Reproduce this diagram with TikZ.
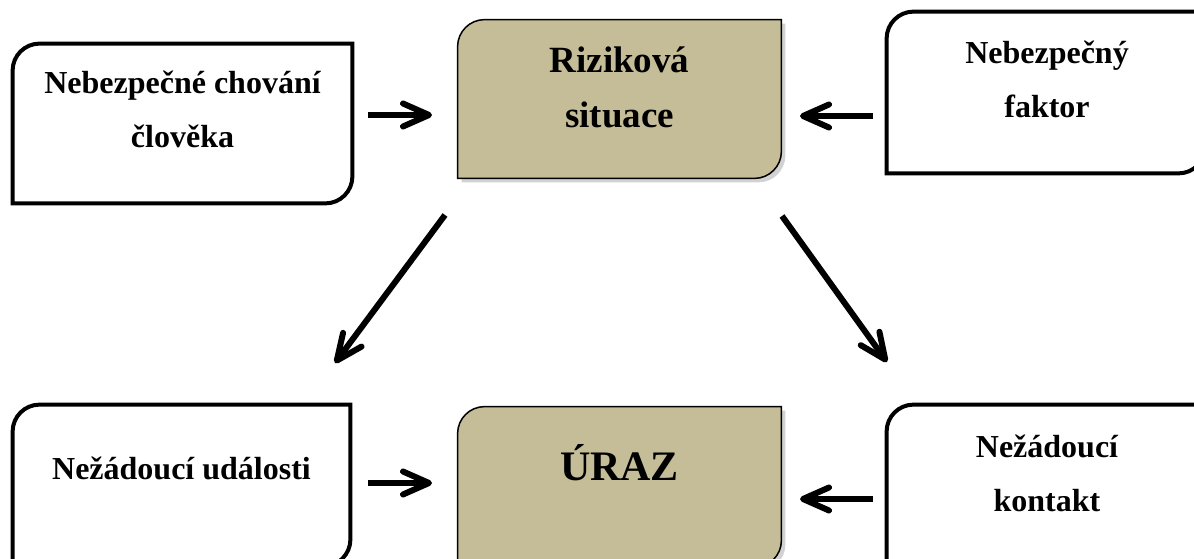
\documentclass[tikz,border=0pt]{standalone}
\usepackage{fontspec}
\setmainfont{Liberation Serif}
\usepackage{xcolor}
\usetikzlibrary{arrows.meta,shadows,backgrounds}

\definecolor{tanfill}{HTML}{C4BD97}

\begin{document}
\begin{tikzpicture}[
  x=1pt, y=1pt,
  font=\fontsize{16}{27}\selectfont\bfseries,
  box/.style 2 args={inner sep=0pt, minimum width=#1, minimum height=#2},
  txt/.style={anchor=base, align=center, inner sep=0pt},
  outline/.style={insert path={(#1.south west) -- ([yshift=-13.5pt]#1.north west)
    arc[start angle=180, end angle=90, radius=13.5pt] -- (#1.north east)
    -- ([yshift=13.5pt]#1.south east) arc[start angle=0, end angle=-90, radius=13.5pt] -- cycle}},
  plain/.style={draw=black, line width=2pt, fill=white},
  core/.style={draw=black, line width=0.75pt, fill=tanfill,
    drop shadow={shadow xshift=2pt, shadow yshift=-2pt, opacity=0.35}},
  arr/.style={line width=3pt, -{Straight Barb[length=13pt, width=11.5pt, round]}}
]
\useasboundingbox (0,0) rectangle (597,279);

% boxes
\node[box={169.5pt}{79.5pt}] (hum) at (91.25,217.25) {};
\node[box={161.5pt}{79pt}] (sit) at (309.75,229.5) {};
\node[box={159pt}{80.5pt}] (fac) at (523,232.75) {};
\node[box={168.5pt}{80.5pt}] (evt) at (90.75,36.25) {};
\node[box={161.5pt}{80pt}] (ura) at (309.75,35.5) {};
\node[box={159pt}{80.5pt}] (con) at (523,36.25) {};

% texts (base = last line)
\node[txt] (hum-t) at ([yshift=-52pt]hum.north) {Nebezpečné chování\\člověka};
\node[txt, font=\fontsize{18.5}{27.5}\selectfont\bfseries] (sit-t) at ([yshift=-54pt]sit.north) {Riziková\\situace};
\node[txt] (fac-t) at ([xshift=0.5pt,yshift=-53pt]fac.north) {Nebezpečný\\faktor};
\node[txt] (evt-t) at ([yshift=-37.5pt]evt.north) {Nežádoucí události};
\node[txt, font=\fontsize{21}{27}\selectfont\bfseries] (ura-t) at ([yshift=-37pt]ura.north) {ÚRAZ};
\node[txt] (con-t) at ([xshift=0.5pt,yshift=-53.5pt]con.north) {Nežádoucí\\kontakt};

\begin{pgfonlayer}{background}
  \clip (0,0) rectangle (597,279);
  \fill[white] (0,0) rectangle (597,279);
  \foreach \b in {hum,fac,evt,con}
    \path[plain, outline=\b];
  \foreach \b in {sit,ura}
    \path[core, outline=\b];
\end{pgfonlayer}

% arrows
\coordinate (h1) at (184,221.5);
\coordinate (s1) at (216,221.5);
\coordinate (f1) at (436.5,221);
\coordinate (s2) at (400,221);
\coordinate (s3) at (222.5,171.5);
\coordinate (e1) at (167.5,97.5);
\coordinate (s4) at (391,171);
\coordinate (c1) at (443.5,98);
\coordinate (e2) at (184,37.5);
\coordinate (u1) at (216,37.5);
\coordinate (c2) at (436.5,29.5);
\coordinate (u2) at (400,29.5);
\draw[arr] (h1) -- (s1);
\draw[arr] (f1) -- (s2);
\draw[arr] (s3) -- (e1);
\draw[arr] (s4) -- (c1);
\draw[arr] (e2) -- (u1);
\draw[arr] (c2) -- (u2);
\end{tikzpicture}
\end{document}
